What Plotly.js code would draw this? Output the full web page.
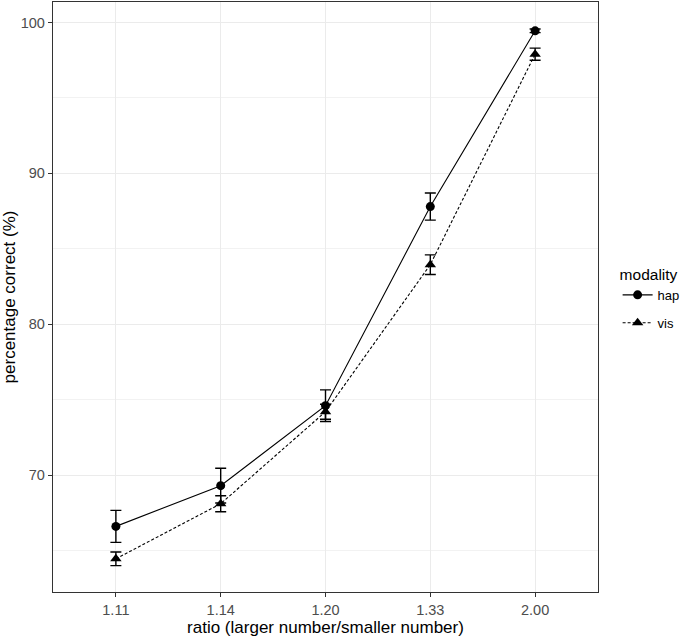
<!DOCTYPE html>
<html>
<head>
<meta charset="utf-8">
<script src="https://cdn.plot.ly/plotly-3.0.1.min.js"></script>
<style>
  body { margin: 0; background: #fff; }
  #chart { width: 685px; height: 638px; }
</style>
</head>
<body>
<div id="chart"></div>
<script>
// ratio categories on the x axis
const ratios = ["1.11", "1.14", "1.20", "1.33", "2.00"];

// haptic modality: mean percentage correct and error
const hapMean = [66.6, 69.3, 74.6, 87.8, 99.45];
const hapErr = [1.06, 1.15, 1.05, 0.9, 0.12];

// visual modality: mean percentage correct and error
const visMean = [64.45, 68.1, 74.2, 83.95, 97.9];
const visErr = [0.45, 0.53, 0.5, 0.65, 0.4];

const yTicks = [70, 80, 90, 100];

// one trace per modality
var hap = {
    x: ratios,
    y: hapMean,
    name: "hap",
    legendgroup: "hap",
    type: "scatter",
    mode: "lines+markers",
    line: { color: "#000", width: 1.1 },
    marker: { symbol: "circle", size: 9, color: "#000" },
    error_y: { type: "data", array: hapErr, visible: true, color: "#000", thickness: 1.4, width: 5.5 }
};

var vis = {
    x: ratios,
    y: visMean,
    name: "vis",
    legendgroup: "vis",
    type: "scatter",
    mode: "lines+markers",
    line: { color: "#000", width: 1.1, dash: "3px,2px" },
    marker: { symbol: "triangle-up", size: 10, color: "#000" },
    error_y: { type: "data", array: visErr, visible: true, color: "#000", thickness: 1.4, width: 5.5 }
};

// layout close to ggplot theme_bw
var layout = {
    width: 685,
    height: 638,
    // keep the panel fixed, the legend must not push the margin
    margin: { l: 53, r: 87, t: 2, b: 46, autoexpand: false },
    paper_bgcolor: "#fff",
    plot_bgcolor: "#fff",
    font: { family: "Arial, Liberation Sans, sans-serif", color: "#000" },
    xaxis: {
        type: "category",
        range: [-0.6, 4.6],
        showgrid: true,
        gridcolor: "#EBEBEB",
        gridwidth: 1,
        zeroline: false,
        showline: true,
        mirror: true,
        linecolor: "#333",
        linewidth: 1.2,
        ticks: "outside",
        ticklen: 4,
        tickcolor: "#333",
        tickfont: { size: 14.5, color: "#4D4D4D" },
        title: { text: "ratio (larger number/smaller number)", font: { size: 17, color: "#000" }, standoff: 2 }
    },
    yaxis: {
        range: [62.25, 101.36],
        tickvals: yTicks,
        showgrid: true,
        gridcolor: "#EBEBEB",
        gridwidth: 1,
        minor: { dtick: 5, tick0: 0, showgrid: true, gridcolor: "#F2F2F2", gridwidth: 1, ticks: "" },
        zeroline: false,
        showline: true,
        mirror: true,
        linecolor: "#333",
        linewidth: 1.2,
        ticks: "outside",
        ticklen: 4,
        tickcolor: "#333",
        tickfont: { size: 14.5, color: "#4D4D4D" },
        title: { text: "percentage correct (%)", font: { size: 17, color: "#000" }, standoff: 4 }
    },
    showlegend: true,
    legend: {
        x: 1.036,
        xanchor: "left",
        y: 0.497,
        yanchor: "middle",
        title: { text: "modality", font: { size: 15.5, color: "#000" } },
        font: { size: 13, color: "#000" },
        tracegroupgap: 8
    }
};

Plotly.newPlot("chart", [hap, vis], layout, { displayModeBar: false, staticPlot: true });
</script>
</body>
</html>
